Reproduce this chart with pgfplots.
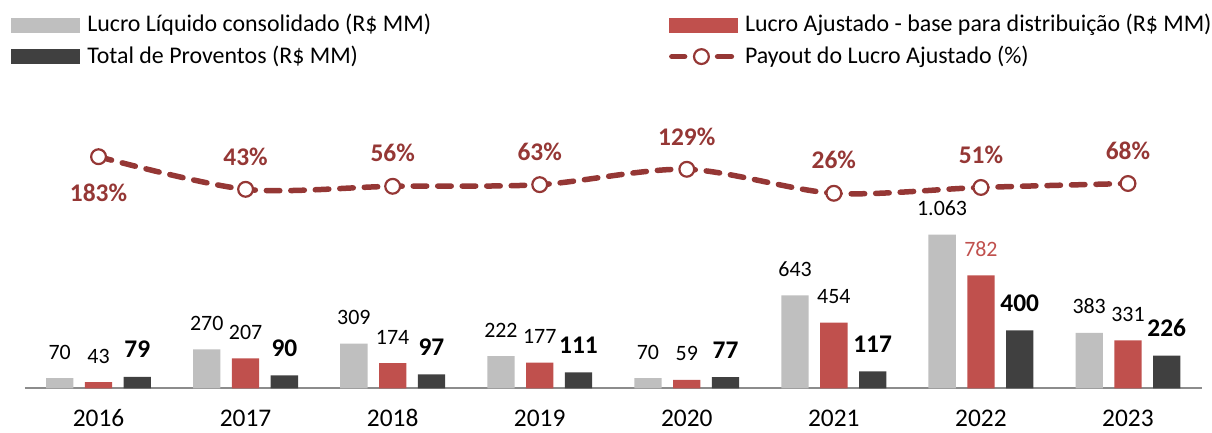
\documentclass[border=0pt]{standalone}
\usepackage{pgfplots}
\pgfplotsset{compat=1.18}
\usepackage{fontspec}
\setmainfont{Carlito}
\definecolor{cgray}{HTML}{BFBFBF}
\definecolor{cred}{HTML}{C0504D}
\definecolor{cdark}{HTML}{404040}
\definecolor{cline}{HTML}{953735}
\begin{document}
\begin{tikzpicture}
\useasboundingbox (0,0) rectangle (1212bp,433bp);
\pgfplotsset{common/.style={at={(25bp,44.7bp)}, anchor=south west, scale only axis,
  width=1176.5bp, height=288.3bp, xmin=-0.5, xmax=7.5, clip=false}}
\begin{axis}[common, ymin=0, ymax=1995,
  axis y line=none, axis x line*=bottom,
  x axis line style={draw=black!45, line width=1.6bp, -},
  xtick={0,1,2,3,4,5,6,7},
  xticklabels={2016,2017,2018,2019,2020,2021,2022,2023},
  major tick length=0pt,
  xticklabel style={font=\fontsize{25.5}{30}\selectfont, anchor=base, yshift=-38bp,
    inner sep=0pt, text depth=0pt},
  point meta=explicit symbolic, nodes near coords,
  every node near coord/.append style={anchor=base, yshift=19bp, inner sep=0pt,
    font=\fontsize{22}{26}\selectfont, text=black},
  legend columns=2, legend cell align=left,
  legend style={draw=none, fill=none, inner sep=0pt,
    at={(axis description cs:0,1)}, anchor=north west, xshift=-14bp, yshift=84.3bp,
    font=\fontsize{24}{28}\selectfont, row sep=10.6bp,
    nodes={inner sep=0pt, text height=16bp, text depth=5bp},
    /tikz/every odd column/.append style={column sep=7.7bp},
    /tikz/every even column/.append style={column sep=237.7bp}},
]
\addplot[ybar, forget plot, fill=cgray, draw=none, bar width=27.3bp, bar shift=-38.8bp,
  every node near coord/.append style={xshift=-38.8bp}]
  coordinates {(0,70)[70] (1,270)[270] (2,309)[309] (3,222)[222] (4,70)[70] (5,643)[643] (6,1063)[1.063] (7,383)[383]};
\addplot[ybar, forget plot, fill=cred, draw=none, bar width=27.3bp, bar shift=0bp]
  coordinates {(0,43)[43] (1,207)[207] (2,174)[174] (3,177)[177] (4,59)[59] (5,454)[454] (6,782)[\textcolor{cred}{782}] (7,331)[331]};
\addplot[ybar, forget plot, fill=cdark, draw=none, bar width=27.3bp, bar shift=38.8bp,
  every node near coord/.append style={xshift=38.8bp, font=\bfseries\fontsize{25.5}{30}\selectfont}]
  coordinates {(0,79)[79] (1,90)[90] (2,97)[97] (3,111)[111] (4,77)[77] (5,117)[117] (6,400)[400] (7,226)[226]};
\addlegendimage{legend image code/.code={\fill[cgray] (0bp,-5.6bp) rectangle (68bp,8.4bp);}}
\addlegendentry{Lucro Líquido consolidado (R\$ MM)}
\addlegendimage{legend image code/.code={\fill[cred] (0bp,-5.6bp) rectangle (68bp,8.4bp);}}
\addlegendentry{Lucro Ajustado - base para distribuição (R\$ MM)}
\addlegendimage{legend image code/.code={\fill[cdark] (0bp,-5.6bp) rectangle (68bp,8.4bp);}}
\addlegendentry{Total de Proventos (R\$ MM)}
\addlegendimage{legend image code/.code={
  \fill[white, opacity=0] (0bp,-5.6bp) rectangle (68bp,8.4bp);
  \draw[cline, line width=5.5bp, line cap=round] (2.75bp,1.4bp) -- (15.5bp,1.4bp);
  \draw[cline, line width=5.5bp, line cap=round] (48.5bp,1.4bp) -- (62.3bp,1.4bp);
  \draw[cline, line width=2.2bp, fill=white] (32.3bp,1.4bp) circle (7.4bp);}}
\addlegendentry{Payout do Lucro Ajustado (\%)}
\end{axis}
\begin{axis}[common, ymin=-810.9, ymax=426.4, hide axis]
\addplot[cline, line width=5.5bp, dash pattern=on 13.5bp off 11bp, line cap=round, smooth,
  mark=*, mark size=7.4bp, mark options={solid, fill=white, draw=cline, line width=2.2bp},
  point meta=explicit symbolic, nodes near coords={\pgfplotspointmeta\%},
  visualization depends on={\thisrow{dy}\as\dy},
  every node near coord/.append style={anchor=center, yshift=\dy bp,
    font=\bfseries\fontsize{25.5}{30}\selectfont, text=cline}]
  table[x=x, y=y, meta=y]{
x y dy
0 183 -36.6
1 43 32.6
2 56 33
3 63 33
4 129 32.6
5 26 33
6 51 33
7 68 33
};
\end{axis}
\end{tikzpicture}
\end{document}
